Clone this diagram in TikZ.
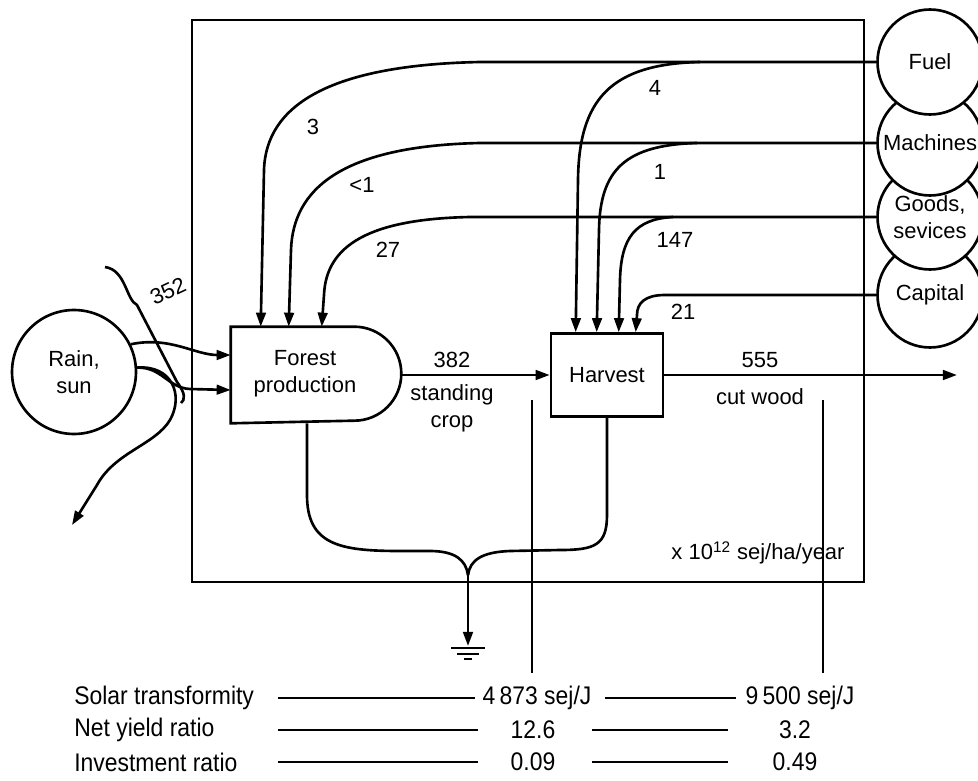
\documentclass[tikz,border=0pt]{standalone}
\usepackage{fontspec}
\setmainfont{Liberation Sans}
\newfontfamily\tabfont[FakeStretch=0.9]{Liberation Sans}
\usetikzlibrary{arrows.meta,calc}
\begin{document}
\begin{tikzpicture}[x=0.02cm,y=-0.02cm,
  line width=1.5pt,
  arr/.style={-{Triangle[length=8pt,width=5.5pt]}},
  src/.style={circle,draw,fill=white,line width=1.5pt,minimum size=2.1cm,inner sep=0pt,align=center,font=\fontsize{12.5}{15}\selectfont},
  lbl/.style={font=\fontsize{12.5}{15.5}\selectfont,inner sep=1pt,align=center},
  tab/.style={font=\tabfont\fontsize{14.5}{16}\selectfont,inner sep=0pt},
  thinline/.style={line width=0.8pt}]
\useasboundingbox (0,0) rectangle (978,781);

% frame
\draw[line width=1.7pt] (192,20) rectangle (864,582);

% sources on the right (lower ones first, so upper circles lie on top)
\node[src] (capital) at (930,295) {Capital};
\node[src] (goods) at (930,217) {Goods,\\sevices};
\node[src] (machines) at (930,143) {Machines};
\node[src] (fuel) at (930,62) {Fuel};

% rain, sun
\node[src,minimum size=2.48cm] (rain) at (74,372) {Rain,\\sun};

% forest production (D shape)
\node[minimum width=3.36cm,minimum height=1.88cm,inner sep=0pt] (forest) at (316,375) {};
\draw (forest.north west) -- ([xshift=-0.94cm]forest.north east)
  arc[start angle=90,end angle=-90,radius=0.94cm] -- (forest.south west) -- cycle;
\node[lbl] (forestlbl) at (305,374) {Forest\\production};

% harvest
\node[draw,minimum width=2.24cm,minimum height=1.66cm,inner sep=0pt,font=\fontsize{12.5}{15}\selectfont] (harvest) at (607,375) {Harvest};

% input targets
\coordinate (f1) at ($(forest.north west)+(30,0)$);
\coordinate (f2) at ($(forest.north west)+(58,0)$);
\coordinate (f3) at ($(forest.north west)+(91,0)$);
\coordinate (h1) at ($(harvest.north west)+(26,0)$);
\coordinate (h2) at ($(harvest.north west)+(47,0)$);
\coordinate (h3) at ($(harvest.north west)+(69,0)$);
\coordinate (h4) at ($(harvest.north west)+(86,0)$);

% fuel
\draw[arr] (fuel.west) -- (480,62) .. controls (330,65) and (266,105) .. (264,170) -- (f1);
\coordinate (b4) at (700,62);
\draw[arr] (b4) .. controls (610,64) and (579,100) .. (578,180) -- (h1);
% machines
\draw[arr] (machines.west) -- (480,143) .. controls (340,146) and (293,190) .. (291,250) -- (f2);
\coordinate (b1) at (697,143);
\draw[arr] (b1) .. controls (625,145) and (600,170) .. (599,230) -- (h2);
% goods
\draw[arr] (goods.west) -- (470,217) .. controls (370,219) and (326,245) .. (324,295) -- (f3);
\coordinate (b147) at (673,217);
\draw[arr] (b147) .. controls (635,219) and (621,238) .. (620,280) -- (h3);
% capital
\draw[arr] (capital.west) -- (665,295) .. controls (645,295) and (637,303) .. (637,315) -- (h4);

% flow labels
\node[lbl] at (313,127) {3};
\node[lbl] at (362,185) {<1};
\node[lbl] at (388,250) {27};
\node[lbl] at (655,88) {4};
\node[lbl] at (660,172) {1};
\node[lbl] at (675,240) {147};
\node[lbl] at (683,312) {21};

% rain inputs
\draw[arr] (rain.26) .. controls (170,336) and (195,355) .. ($(forest.west)+(0,-20)$);
\draw[arr] (rain.4) .. controls (162,367) and (168,388) .. (190,389) -- ($(forest.west)+(0,15)$);
\coordinate (sink) at (72,525);
\draw[arr] (rain.4) .. controls (172,365) and (184,395) .. (170,420)
  .. controls (155,445) and (115,452) .. (97,485) -- (sink);
% 352 brace
\draw (105,267) .. controls (126,270) and (126,300) .. (137,305)
  -- (177,382) .. controls (186,394) and (185,400) .. (181,403);
\node[lbl,rotate=25,inner sep=0pt] at (168,291) {352};

% forest -> harvest
\draw[arr] (forest.east) -- (harvest.west);
\node[lbl] at (452,360) {382};
\node[lbl] at (452,408) {standing\\crop};

% harvest -> out
\coordinate (outend) at (957,375);
\draw[arr] (harvest.east) -- (outend);
\node[lbl] at (760,360) {555};
\node[lbl] at (760,397) {cut wood};

% heat sink
\coordinate (merge) at (468,575);
\coordinate (gnd) at (468,646);
\draw ($(forest.south)+(-9,0)$) -- (307,495) .. controls (307,545) and (340,551) .. (400,551)
  -- (430,551) .. controls (455,551) and (466,560) .. (merge);
\draw (harvest.south) -- (607,515) .. controls (607,545) and (595,550) .. (560,550)
  -- (510,551) .. controls (482,552) and (470,560) .. (merge);
\draw[arr] (merge) -- (gnd);
\draw (451,648) -- (485,648);
\draw (457,654) -- (479,654);
\draw (464,659) -- (472,659);

\node[lbl] at (758,553) {x 10\textsuperscript{12} sej/ha/year};

% indicator lines
\draw[thinline] (532,400) -- (532,673);
\draw[thinline] (823,400) -- (823,673);

% table
\coordinate (c1) at (278,0);
\coordinate (c2) at (478,0);
\coordinate (c3) at (592,0);
\coordinate (c4) at (728,0);
\node[tab,anchor=west] (st) at (73,698) {Solar transformity};
\node[tab] (st1) at (537,698) {4\,873 sej/J};
\node[tab] (st2) at (800,698) {9\,500 sej/J};
\node[tab,anchor=west] (ny) at (73,730) {Net yield ratio};
\node[tab] (ny1) at (533,730) {12.6};
\node[tab] (ny2) at (795,730) {3.2};
\node[tab,anchor=west] (ir) at (73,762) {Investment ratio};
\node[tab] (ir1) at (533,762) {0.09};
\node[tab] (ir2) at (795,762) {0.49};
\draw[thinline] (c1 |- st.east) -- ($(st1.west)+(-6,0)$);
\draw[thinline] ($(st1.east)+(12,0)$) -- ($(st2.west)+(-8,0)$);
\draw[thinline] (c1 |- ny.east) -- (c2 |- ny.east);
\draw[thinline] (c3 |- ny.east) -- (c4 |- ny.east);
\draw[thinline] (c1 |- ir.east) -- (c2 |- ir.east);
\draw[thinline] (c3 |- ir.east) -- (c4 |- ir.east);
\end{tikzpicture}
\end{document}
